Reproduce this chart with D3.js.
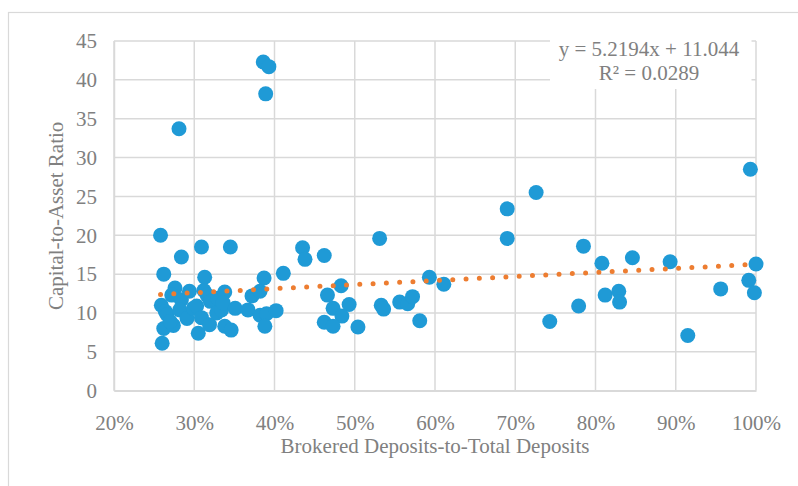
<!DOCTYPE html>
<html>
<head>
<meta charset="utf-8">
<script src="https://cdn.jsdelivr.net/npm/d3@7"></script>
<style>
  body { margin: 0; background: #fff; }
</style>
</head>
<body>
<div id="chart"></div>
<script>
// Brokered deposits share (%) and capital-to-asset ratio
const brokeredPct = [
  25.8, 28.1, 38.6, 39.3, 38.9, 30.9, 34.5, 28.4, 26.2, 31.3,
  38.7, 27.6, 27.2, 28.4, 29.4, 31.2, 31.6, 32.0, 32.9, 33.8,
  37.2, 38.2, 25.9, 26.4, 26.6, 28.2, 29.1, 29.9, 30.3, 30.9,
  26.2, 27.4, 27.0, 30.5, 31.9, 26.0, 32.8, 33.4, 33.6, 33.8,
  34.6, 35.1, 36.7, 38.2, 39.0, 38.8, 40.2, 41.1, 43.5, 43.8,
  46.2, 48.3, 46.6, 47.3, 49.3, 48.4, 46.2, 47.3, 50.4, 53.1,
  53.3, 53.6, 55.6, 56.6, 57.2, 58.1, 59.3, 61.1, 69.0, 69.0,
  72.6, 74.3, 77.9, 78.5, 80.8, 81.2, 82.9, 83.0, 84.6, 89.3,
  91.5, 95.6, 99.1, 99.3, 99.8, 100.0
];
const capitalRatio = [
  20.0, 33.7, 42.3, 41.7, 38.2, 18.5, 18.5, 17.2, 15.0, 14.6,
  14.5, 13.2, 12.3, 11.7, 12.8, 12.9, 12.3, 11.5, 11.9, 12.7,
  12.2, 12.8, 11.0, 10.2, 9.8, 10.4, 9.3, 10.6, 10.9, 9.4,
  8.0, 8.4, 8.9, 7.4, 8.5, 6.1, 10.0, 10.4, 11.3, 8.3,
  7.8, 10.6, 10.4, 9.7, 9.9, 8.3, 10.3, 15.1, 18.4, 16.9,
  17.4, 13.5, 12.3, 10.6, 11.1, 9.6, 8.8, 8.3, 8.2, 19.6,
  11.0, 10.5, 11.4, 11.2, 12.1, 9.0, 14.6, 13.7, 23.4, 19.6,
  25.5, 8.9, 10.9, 18.6, 16.4, 12.3, 12.8, 11.4, 17.1, 16.6,
  7.1, 13.1, 14.2, 28.5, 12.6, 16.3
];

// Linear trendline as printed on the chart (x as a fraction)
const trendSlope = 5.2194;
const trendIntercept = 11.044;
const equationLines = ["y = 5.2194x + 11.044", "R² = 0.0289"];

const xTicks = [20, 30, 40, 50, 60, 70, 80, 90, 100];
const yTicks = [0, 5, 10, 15, 20, 25, 30, 35, 40, 45];

const points = brokeredPct.map((x, i) => ({ x: x, y: capitalRatio[i] }));

const W = 798, H = 486;
const plot = { left: 114, right: 756, top: 41, bottom: 390.7 };
const FONT = '"Liberation Serif", "Times New Roman", "DejaVu Serif", serif';
const TEXT = "#808080";
const FS = "21px";

const svg = d3.select("#chart").append("svg")
  .attr("width", W)
  .attr("height", H)
  .style("font-family", FONT);

// outer chart frame
svg.append("rect")
  .attr("x", 8.5).attr("y", 12.5)
  .attr("width", 820).attr("height", 500)
  .attr("fill", "#fff")
  .attr("stroke", "#d9d9d9")
  .attr("stroke-width", 1.2);

const x = d3.scaleLinear().domain([20, 100]).range([plot.left, plot.right]);
const y = d3.scaleLinear().domain([0, 45]).range([plot.bottom, plot.top]);

// gridlines
svg.append("g")
  .selectAll("line")
  .data(yTicks)
  .join("line")
  .attr("x1", plot.left).attr("x2", plot.right)
  .attr("y1", d => y(d)).attr("y2", d => y(d))
  .attr("stroke", "#d9d9d9")
  .attr("stroke-width", 1.5);

svg.append("g")
  .selectAll("line")
  .data(xTicks)
  .join("line")
  .attr("x1", d => x(d)).attr("x2", d => x(d))
  .attr("y1", plot.top).attr("y2", plot.bottom)
  .attr("stroke", "#d9d9d9")
  .attr("stroke-width", 1.5);

// axes
const xAxis = svg.append("g")
  .attr("transform", `translate(0,${plot.bottom})`)
  .call(d3.axisBottom(x).tickValues(xTicks).tickSize(0).tickPadding(24).tickFormat(d => d + "%"));
xAxis.attr("font-family", null).attr("font-size", null);
xAxis.select(".domain").attr("stroke", "#d9d9d9").attr("stroke-width", 1.5);
xAxis.selectAll("text")
  .style("font-family", FONT)
  .style("font-size", FS)
  .attr("fill", TEXT);

const yAxis = svg.append("g")
  .attr("transform", `translate(${plot.left},0)`)
  .call(d3.axisLeft(y).tickValues(yTicks).tickSize(0).tickPadding(17));
yAxis.attr("font-family", null).attr("font-size", null);
yAxis.select(".domain").attr("stroke", "#d9d9d9").attr("stroke-width", 1.5);
yAxis.selectAll("text")
  .style("font-family", FONT)
  .style("font-size", FS)
  .attr("fill", TEXT);

// data points
svg.append("g")
  .selectAll("circle")
  .data(points)
  .join("circle")
  .attr("cx", d => x(d.x))
  .attr("cy", d => y(d.y))
  .attr("r", 7.5)
  .attr("fill", "#1f9ad6");

// dotted trendline across the data range
const xExtent = d3.extent(brokeredPct);
const trend = xExtent.map(v => ({ x: v, y: trendSlope * v / 100 + trendIntercept }));
svg.append("path")
  .attr("d", d3.line().x(d => x(d.x)).y(d => y(d.y))(trend))
  .attr("fill", "none")
  .attr("stroke", "#ed7d31")
  .attr("stroke-width", 5)
  .attr("stroke-linecap", "round")
  .attr("stroke-dasharray", "0 13.3");

// trendline equation box
svg.append("rect")
  .attr("x", 550).attr("y", 38)
  .attr("width", 201.5).attr("height", 51)
  .attr("fill", "#fff");

svg.append("g")
  .selectAll("text")
  .data(equationLines)
  .join("text")
  .attr("x", 649)
  .attr("y", (d, i) => 56 + i * 24)
  .attr("text-anchor", "middle")
  .attr("fill", TEXT)
  .style("font-family", FONT)
  .style("font-size", FS)
  .text(d => d);

// axis titles
svg.append("text")
  .attr("x", (plot.left + plot.right) / 2)
  .attr("y", 453)
  .attr("text-anchor", "middle")
  .attr("fill", TEXT)
  .style("font-family", FONT)
  .style("font-size", FS)
  .text("Brokered Deposits-to-Total Deposits");

svg.append("text")
  .attr("transform", `translate(63,${(plot.top + plot.bottom) / 2}) rotate(-90)`)
  .attr("text-anchor", "middle")
  .attr("fill", TEXT)
  .style("font-family", FONT)
  .style("font-size", FS)
  .text("Capital-to-Asset Ratio");
</script>
</body>
</html>
